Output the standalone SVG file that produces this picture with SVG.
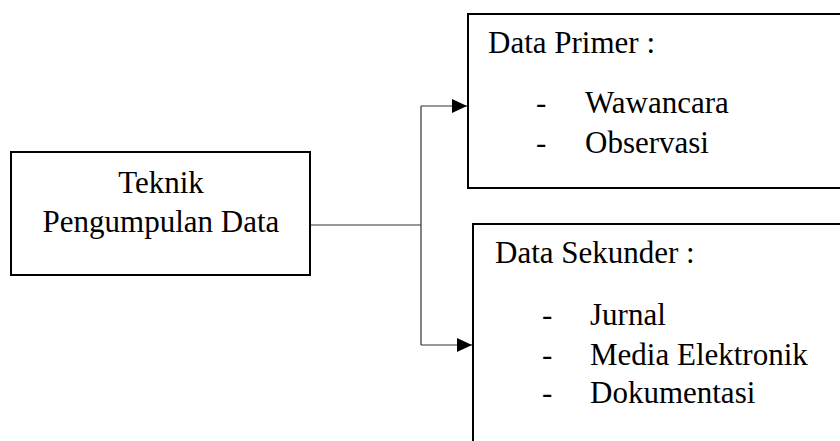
<svg xmlns="http://www.w3.org/2000/svg" width="840" height="441" viewBox="0 0 840 441">
<style>
.box{fill:#fff;stroke:#000;stroke-width:2}
.t{font-family:"Liberation Serif","Times New Roman",serif;font-size:31px;fill:#000}
.c{fill:none;stroke:#333;stroke-width:1.2}
</style>
<defs>
<marker id="ah" markerWidth="15" markerHeight="14" refX="15" refY="7" orient="auto" markerUnits="userSpaceOnUse" viewBox="0 0 15 14">
<path d="M0,0 L15,7 L0,14 Z" fill="#000"/>
</marker>
</defs>
<rect width="840" height="441" fill="#fff"/>
<g id="connectors">
<path class="c" d="M310,225 H421"/>
<path class="c" d="M421,106 V345"/>
<path class="c" d="M421,106 H467" marker-end="url(#ah)"/>
<path class="c" d="M421,345 H472" marker-end="url(#ah)"/>
</g>
<g id="teknik">
<rect class="box" x="11" y="152" width="299" height="123"/>
<text class="t" x="161" y="193" text-anchor="middle">Teknik</text>
<text class="t" x="161" y="232" text-anchor="middle">Pengumpulan Data</text>
</g>
<g id="primer">
<rect class="box" x="468" y="14" width="400" height="174"/>
<text class="t" x="488" y="53">Data Primer :</text>
<text class="t" x="536" y="113">-</text>
<text class="t" x="585" y="113">Wawancara</text>
<text class="t" x="536" y="153">-</text>
<text class="t" x="585" y="153">Observasi</text>
</g>
<g id="sekunder">
<rect class="box" x="473" y="224" width="400" height="240"/>
<text class="t" x="495" y="263">Data Sekunder :</text>
<text class="t" x="542" y="325">-</text>
<text class="t" x="590" y="325">Jurnal</text>
<text class="t" x="542" y="365">-</text>
<text class="t" x="590" y="365">Media Elektronik</text>
<text class="t" x="542" y="403">-</text>
<text class="t" x="590" y="403">Dokumentasi</text>
</g>
</svg>
